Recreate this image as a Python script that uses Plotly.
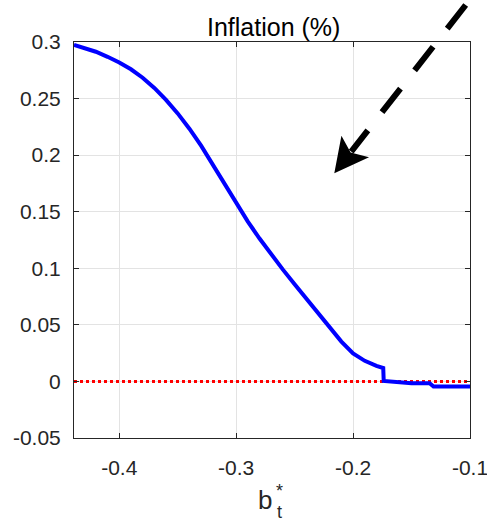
import plotly.graph_objects as go

# ---- data ----
b_star = [-0.4387, -0.43, -0.42, -0.41, -0.40, -0.39, -0.38, -0.37, -0.36, -0.35,
          -0.34, -0.33, -0.32, -0.31, -0.30, -0.29, -0.28, -0.27, -0.26, -0.25,
          -0.24, -0.23, -0.22, -0.21, -0.20, -0.19, -0.18, -0.1742, -0.1738,
          -0.170, -0.160, -0.150, -0.1345, -0.1312, -0.120, -0.110, -0.100]
inflation = [0.2975, 0.2949, 0.2914, 0.2869, 0.2819, 0.2759, 0.2684, 0.2594, 0.2489, 0.2369,
             0.2234, 0.2084, 0.1917, 0.1745, 0.1573, 0.1413, 0.1263, 0.1123, 0.0988, 0.0858,
             0.0728, 0.0598, 0.0470, 0.0352, 0.0247, 0.0182, 0.0138, 0.0118, 0.0004,
             0.0000, -0.0013, -0.0015, -0.0016, -0.0045, -0.0045, -0.0045, -0.0045]
zero_x = [-0.4387, -0.1]
zero_y = [0.0, 0.0]

x_ticks = [-0.4, -0.3, -0.2, -0.1]
x_ticktext = ["-0.4", "-0.3", "-0.2", "-0.1"]
y_ticks = [-0.05, 0.0, 0.05, 0.1, 0.15, 0.2, 0.25, 0.3]
y_ticktext = ["-0.05", "0", "0.05", "0.1", "0.15", "0.2", "0.25", "0.3"]

title_text = "Inflation (%)"

# ---- layout geometry (pixels) ----
W, H = 487, 524
L, R, T, B = 74, 470, 42, 438
def px(xp):
    return (xp - L) / (R - L)
def py(yp):
    return (B - yp) / (B - T)

FONT = "Liberation Sans, Arial, Helvetica, sans-serif"
TXT = "#262626"
GRID = "#e3e3e3"

fig = go.Figure()
fig.add_trace(go.Scatter(x=zero_x, y=zero_y, mode="lines",
                         line=dict(color="#ff0000", width=3, dash="dot"),
                         showlegend=False, hoverinfo="skip"))
fig.add_trace(go.Scatter(x=b_star, y=inflation, mode="lines",
                         line=dict(color="#0000ff", width=4),
                         showlegend=False))

axis_common = dict(showline=True, linecolor=TXT, linewidth=1, mirror="ticks",
                   ticks="inside", ticklen=5, tickcolor=TXT, tickwidth=1,
                   showgrid=True, gridcolor=GRID, gridwidth=1, zeroline=False,
                   ticklabeloverflow="allow",
                   tickfont=dict(family=FONT, size=21, color=TXT))

fig.update_layout(
    width=W, height=H,
    margin=dict(l=L, r=W - R, t=T, b=H - B, autoexpand=False),
    paper_bgcolor="white", plot_bgcolor="white",
    showlegend=False,
    xaxis=dict(range=[-0.4387, -0.09999], tickvals=x_ticks, ticktext=x_ticktext,
               ticklabelstandoff=11, automargin=False, **axis_common),
    yaxis=dict(range=[-0.05, 0.3], tickvals=y_ticks, ticktext=y_ticktext,
               ticklabelstandoff=8, automargin=False, **axis_common),
)

# title
fig.add_annotation(x=px(273.4), y=py(27), xref="paper", yref="paper",
                   text=title_text, showarrow=False, xanchor="center", yanchor="middle",
                   font=dict(family=FONT, size=25, color="black"))
# x label: b_t^*
fig.add_annotation(x=px(265.3), y=py(500), xref="paper", yref="paper", text="b",
                   showarrow=False, xanchor="center", yanchor="middle",
                   font=dict(family=FONT, size=26, color=TXT))
fig.add_annotation(x=px(279), y=py(491), xref="paper", yref="paper", text="*",
                   showarrow=False, xanchor="center", yanchor="middle",
                   font=dict(family=FONT, size=18, color=TXT))
fig.add_annotation(x=px(279.5), y=py(512), xref="paper", yref="paper", text="t",
                   showarrow=False, xanchor="center", yanchor="middle",
                   font=dict(family=FONT, size=18, color=TXT))

# dashed arrow (annotation graphic)
x0, y0 = 465.7, 5.0
tipx, tipy = 334.3, 173.3
dx, dy = tipx - x0, tipy - y0
ln = (dx * dx + dy * dy) ** 0.5
ux, uy = dx / ln, dy / ln
nx, ny = -uy, ux
shaft_end = (x0 + 186 * ux, y0 + 186 * uy)
fig.add_shape(type="line", xref="paper", yref="paper",
              x0=px(x0), y0=py(y0), x1=px(shaft_end[0]), y1=py(shaft_end[1]),
              line=dict(color="black", width=6, dash="30px,23px"), layer="above")
HL, HW = 34, 17.5
bx, by = tipx - HL * ux, tipy - HL * uy
w1 = (bx + HW * nx, by + HW * ny)
w2 = (bx - HW * nx, by - HW * ny)
notch = (tipx - 0.78 * HL * ux, tipy - 0.78 * HL * uy)
path = "M {},{} L {},{} L {},{} L {},{} Z".format(
    px(tipx), py(tipy), px(w1[0]), py(w1[1]), px(notch[0]), py(notch[1]),
    px(w2[0]), py(w2[1]))
fig.add_shape(type="path", xref="paper", yref="paper", path=path,
              fillcolor="black", line=dict(color="black", width=0), layer="above")

fig.write_html("out.html")
